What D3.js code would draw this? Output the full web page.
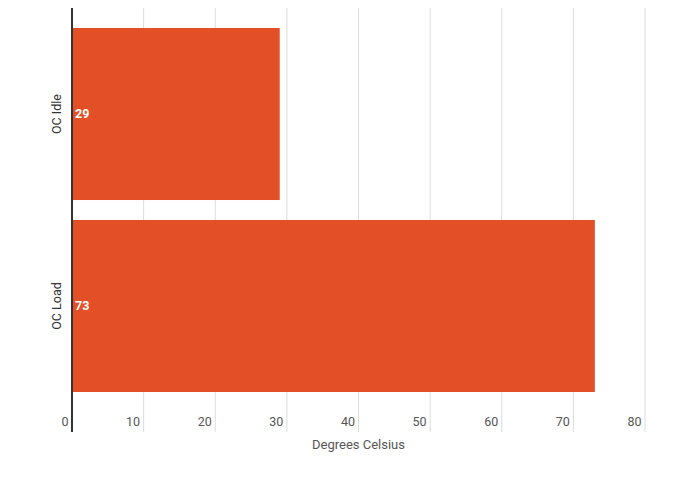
<!DOCTYPE html>
<html>
<head>
<meta charset="utf-8">
<script src="https://cdn.jsdelivr.net/npm/d3@7"></script>
<style>
  body { margin: 0; background: #fff; }
  text { font-family: Roboto, sans-serif; }
</style>
</head>
<body>
<svg id="chart" width="695" height="477"></svg>
<script>
const categories = ['OC Idle', 'OC Load'];
const values = [29, 73];
const xTicks = [0, 10, 20, 30, 40, 50, 60, 70, 80];
const xTitle = 'Degrees Celsius';

const svg = d3.select('#chart');
const margin = { top: 8, right: 50, bottom: 45, left: 72 };
const width = 695 - margin.left - margin.right;
const height = 477 - margin.top - margin.bottom;

const g = svg.append('g').attr('transform', `translate(${margin.left},${margin.top})`);

const x = d3.scaleLinear().domain([0, 80]).range([0, width]);
// bars occupy the upper part of the plot, leaving room for tick labels below
const y = d3.scaleBand().domain(categories).range([20, 384]).paddingInner(0.104).paddingOuter(0);

// gridlines
g.selectAll('line.grid')
  .data(xTicks.slice(1))
  .join('line')
  .attr('class', 'grid')
  .attr('x1', d => x(d)).attr('x2', d => x(d))
  .attr('y1', 0).attr('y2', height)
  .attr('stroke', '#dcdcdc')
  .attr('stroke-width', 1);

// bars
g.selectAll('rect.bar')
  .data(values)
  .join('rect')
  .attr('class', 'bar')
  .attr('x', x(0))
  .attr('y', (d, i) => y(categories[i]))
  .attr('width', d => x(d) - x(0))
  .attr('height', y.bandwidth())
  .attr('fill', '#e34f26');

// value labels
g.selectAll('text.val')
  .data(values)
  .join('text')
  .attr('class', 'val')
  .attr('x', x(0) + 3)
  .attr('y', (d, i) => y(categories[i]) + y.bandwidth() / 2)
  .attr('dy', '0.35em')
  .attr('fill', '#fff')
  .attr('font-weight', 'bold')
  .attr('font-size', 12.5)
  .text(d => d);

// y axis line
g.append('line')
  .attr('x1', 0).attr('x2', 0)
  .attr('y1', 0).attr('y2', height)
  .attr('stroke', '#333')
  .attr('stroke-width', 2);

// category labels (rotated)
g.selectAll('text.cat')
  .data(categories)
  .join('text')
  .attr('class', 'cat')
  .attr('transform', d => `translate(-11,${y(d) + y.bandwidth() / 2}) rotate(-90)`)
  .attr('text-anchor', 'middle')
  .attr('fill', '#333')
  .attr('font-size', 12.5)
  .text(d => d);

// x tick labels
const xAxis = d3.axisBottom(x).tickValues(xTicks).tickSize(0).tickFormat(d3.format('d'));
const ax = g.append('g')
  .attr('transform', `translate(0,${height - 10})`)
  .call(xAxis);
ax.select('.domain').remove();
ax.selectAll('text')
  .attr('text-anchor', 'end')
  .attr('x', -4)
  .attr('dy', '0.35em')
  .attr('y', 0)
  .attr('fill', '#555')
  .attr('font-size', 12.5)
  .style('font-family', 'Roboto, sans-serif');

// x title
g.append('text')
  .attr('x', width / 2)
  .attr('y', height + 17)
  .attr('text-anchor', 'middle')
  .attr('fill', '#555')
  .attr('font-size', 13)
  .text(xTitle);
</script>
</body>
</html>
